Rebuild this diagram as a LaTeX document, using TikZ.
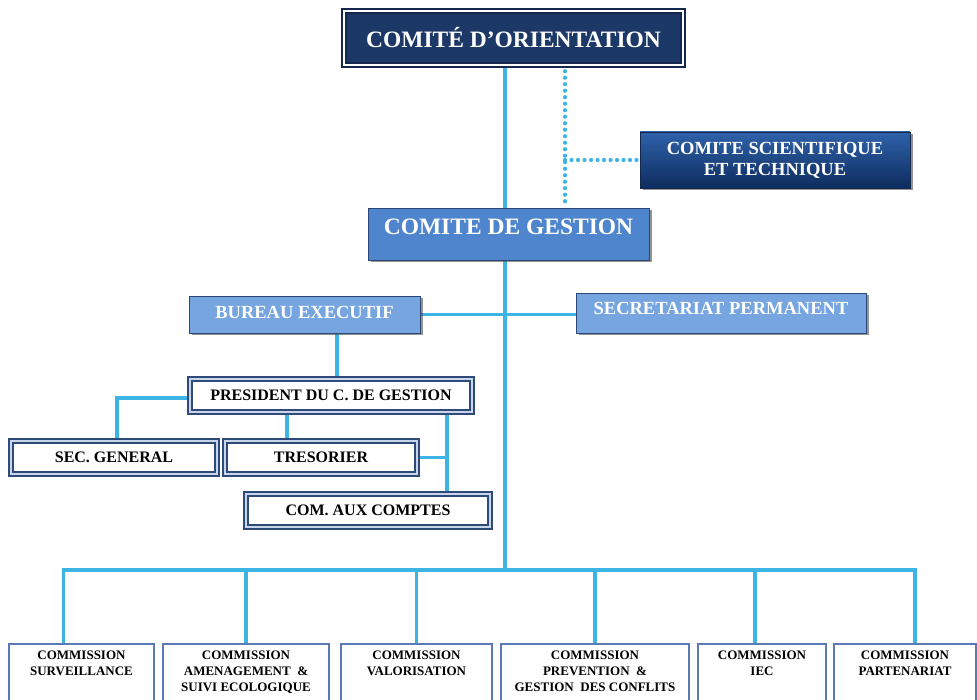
\documentclass[tikz,border=0pt]{standalone}
\usepackage{fontspec}
\setmainfont{Liberation Serif}
\usetikzlibrary{positioning}
\usetikzlibrary{scopes}
\usetikzlibrary{shadows}
\usetikzlibrary{backgrounds}
\usetikzlibrary{decorations.markings}

\definecolor{linkblue}{HTML}{3CB4E4}
\definecolor{navyfill}{HTML}{1C3866}
\definecolor{navyline}{HTML}{13284C}
\definecolor{sciTop}{HTML}{2E62AA}
\definecolor{sciBot}{HTML}{0E2C5E}
\definecolor{gestfill}{HTML}{4F85CD}
\definecolor{bureaufill}{HTML}{76A5E0}
\definecolor{boxline}{HTML}{2C4676}
\definecolor{boxnavy}{HTML}{2D4A7B}
\definecolor{boxlight}{HTML}{C9D6EA}
\definecolor{comline}{HTML}{5A79B6}

\begin{document}
\begin{tikzpicture}[
    x=1pt, y=-1pt,
    inner sep=0,
    link/.style={draw=linkblue, line width=3.2pt},
    dlink/.style={postaction={decorate, decoration={markings,
        mark=between positions 0 and 1 step 6.5pt with {\fill[linkblue] (0,0) circle (2.1pt);}}}},
    shade/.style={drop shadow={shadow xshift=2.5pt, shadow yshift=-2.5pt, opacity=0.6, fill=black!70}},
    lbl/.style={text=white, font=\bfseries\fontsize{18.5}{20}\selectfont},
    colbox/.style={draw=boxline, line width=0.9pt, shade},
    dbox/.style={draw=boxnavy, line width=2.2pt, double=boxlight, double distance=1.1pt, fill=white,
        font=\bfseries\fontsize{16}{18}\selectfont},
    combox/.style={draw=comline, line width=2pt, fill=white, minimum height=74pt}
]
\clip (0,0) rectangle (977,700);

% Comite d'orientation
\node[draw=navyline, line width=2.4pt, double=white, double distance=1.1pt, fill=navyfill,
    minimum width=339pt, minimum height=54pt, text=white,
    font=\bfseries\fontsize{23.5}{26}\selectfont] (orient) at (513.5,38) {COMITÉ D’ORIENTATION};

% Comite scientifique
\node[colbox, draw=navyline, top color=sciTop, bottom color=sciBot, minimum width=270pt, minimum height=56pt,
    align=center, text=white, font=\bfseries\fontsize{18.5}{21}\selectfont] (scient) at (775,160)
    {COMITE SCIENTIFIQUE\\ET TECHNIQUE};

% Comite de gestion
\node[colbox, fill=gestfill, minimum width=281pt, minimum height=52pt,
    label={[lbl, font=\bfseries\fontsize{23.5}{26}\selectfont, yshift=7pt]center:COMITE DE GESTION}] (gestion) at (508.5,234) {};

% Bureau / Secretariat
\node[colbox, fill=bureaufill, minimum width=231pt, minimum height=37pt,
    label={[lbl, yshift=2pt]center:BUREAU EXECUTIF}] (bureau) at (304.5,314.5) {};
\node[colbox, fill=bureaufill, minimum width=290pt, minimum height=40pt,
    label={[lbl, yshift=5pt]center:SECRETARIAT PERMANENT}] (secret) at (721,313) {};

% President and his team
\node[dbox, minimum width=282pt, minimum height=33pt] (pres) at (331,395.5) {PRESIDENT DU C. DE GESTION};
\node[dbox, minimum width=206pt, minimum height=33pt] (secgen) at (114,457.5) {SEC. GENERAL};
\node[dbox, minimum width=192pt, minimum height=33pt] (treso) at (321,457.5) {TRESORIER};
\node[dbox, minimum width=244pt, minimum height=33pt] (comptes) at (368,510.5) {COM. AUX COMPTES};

% Commissions
{ [
    ctext/.style={anchor=north, yshift=-8pt, align=center, font=\bfseries\fontsize{13}{16}\selectfont}
  ]
\node[combox, minimum width=145pt] (c1) at (81.5,681) {};
\node[combox, minimum width=166pt, right=7pt of c1] (c2) {};
\node[combox, minimum width=151pt, right=10pt of c2] (c3) {};
\node[combox, minimum width=188pt, right=7pt of c3] (c4) {};
\node[combox, minimum width=128pt, right=7pt of c4] (c5) {};
\node[combox, minimum width=142pt, right=6pt of c5] (c6) {};
\node[ctext] (t1) at (c1.north) {COMMISSION\\SURVEILLANCE};
\node[ctext] (t2) at (c2.north) {COMMISSION\\AMENAGEMENT \ \&\\SUIVI ECOLOGIQUE};
\node[ctext] (t3) at (c3.north) {COMMISSION\\VALORISATION};
\node[ctext] (t4) at (c4.north) {COMMISSION\\PREVENTION \ \&\\GESTION \ DES CONFLITS};
\node[ctext] (t5) at (c5.north) {COMMISSION\\IEC};
\node[ctext] (t6) at (c6.north) {COMMISSION\\PARTENARIAT};
}

% Connectors
\begin{scope}[on background layer]
\coordinate (spine) at (505,0);
\coordinate (bus) at (505,570);
\coordinate (dotx) at (565,160);
\coordinate (audit) at ([xshift=79pt]comptes.north);
\draw[link] (orient.south -| spine) -- (gestion.north -| spine);
\draw[link] (gestion.south -| spine) -- (bus);
\path[dlink] ([yshift=-5pt]orient.south -| dotx) -- ([yshift=4pt]gestion.north -| dotx);
\path[dlink] ([xshift=-3pt]scient.west) -- (dotx);
\draw[link] (bureau.east) -- (bureau.east -| secret.west);
\draw[link] ([xshift=32.5pt]bureau.south) -- ([xshift=32.5pt]bureau.south |- pres.north);
\draw[link] ([yshift=-2.5pt]pres.west) -| ([xshift=3pt]secgen.north);
\draw[link] ([xshift=-34pt]treso.north) -- ([xshift=-34pt]treso.north |- pres.south);
\draw[link] (audit) -- (audit |- pres.south);
\draw[link] (treso.east) -- (treso.east -| audit);
\draw[link] ([xshift=-18pt]c1.north) |- (bus);
\draw[link] (c2.north) |- (bus);
\draw[link] (c3.north) |- (bus);
\draw[link] (c4.north) |- (bus);
\draw[link] ([xshift=-7pt]c5.north) |- (bus);
\draw[link] ([xshift=10pt]c6.north) |- (bus);
\end{scope}

\end{tikzpicture}
\end{document}
